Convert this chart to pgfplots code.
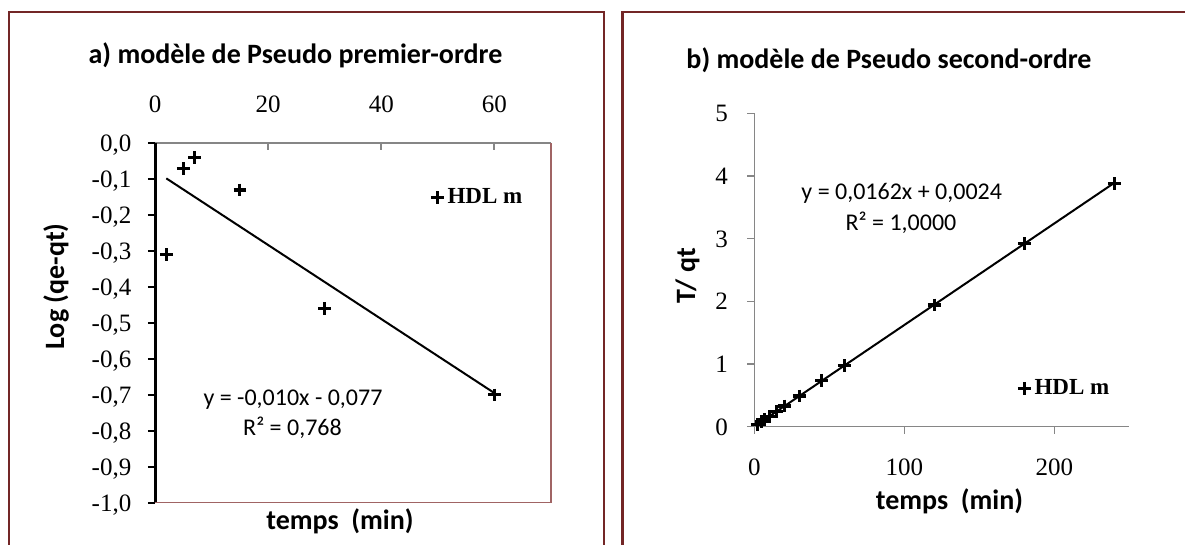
\documentclass[border=0pt]{standalone}
\usepackage{pgfplots}
\pgfplotsset{compat=1.18}
\usepackage{fontspec}
\setmainfont{Liberation Serif}
\newfontfamily\calibri{Carlito}

\definecolor{framered}{RGB}{115,38,38}
\definecolor{axgray}{RGB}{134,134,134}
\definecolor{boxbrown}{RGB}{160,100,100}

\pgfplotsset{
  kinetics/.style={
    scale only axis, clip=false,
    /pgf/number format/assume math mode=true,
    tick label style={font=\fontsize{12.5}{14}\selectfont},
    major tick length=3.5pt, tick align=outside,
    legend style={draw=none, fill=none, inner sep=0pt,
      font=\fontsize{11.5}{13}\selectfont\bfseries},
  },
  crossmarks/.style={only marks, mark=+, mark size=3.175pt, line width=1.6pt, black,
    legend image code/.code={\draw[##1] plot coordinates {(0pt,0pt)};}},
}

\begin{document}
\begin{tikzpicture}
\useasboundingbox (0,0) rectangle (592.5pt,272.5pt);

% panel frames
\draw[framered, line width=1.35pt] (4.5pt,-5pt) -- (4.5pt,266.5pt) -- (302pt,266.5pt) -- (302pt,-5pt);
\draw[framered, line width=1.35pt] (311.35pt,-5pt) -- (311.35pt,266.5pt) -- (600pt,266.5pt);

% ---------- a) pseudo first order ----------
\begin{axis}[kinetics,
  at={(77.5pt,21.15pt)}, anchor=south west,
  width=198pt, height=179.7pt,
  xmin=0, xmax=70, ymin=-1, ymax=0,
  axis x line*=top, axis y line*=left,
  x axis line style={axgray, line width=1pt},
  y axis line style={black, line width=1.5pt},
  xtick={0,20,40,60},
  ytick={-1,-0.9,-0.8,-0.7,-0.6,-0.5,-0.4,-0.3,-0.2,-0.1,0},
  xtick style={axgray, line width=1pt, yshift=-3.5pt},
  ytick style={black, line width=1pt},
  xticklabel style={anchor=south, inner sep=0pt, yshift=11.5pt},
  yticklabel={\pgfmathprintnumber[fixed, fixed zerofill, precision=1, use comma]{\tick}\hspace*{8.15pt}},
  yticklabel style={anchor=base east, inner sep=0pt, yshift=-4.2pt},
  legend style={at={(0.6955,0.849)}, anchor=west},
]
\draw[boxbrown, line width=0.75pt] (rel axis cs:0,0) -- (rel axis cs:1,0) -- (rel axis cs:1,1);
\addplot[crossmarks] coordinates {
  (2,-0.31) (5,-0.07) (7,-0.04) (15,-0.13) (30,-0.46) (60,-0.70)
};
\addlegendentry{HDL m}
% linear trend line
\addplot[black, line width=1pt, forget plot] coordinates {(2,-0.0976) (60,-0.695)};
\end{axis}

% ---------- b) pseudo second order ----------
\begin{axis}[kinetics,
  at={(377.15pt,59.15pt)}, anchor=south west,
  width=187.5pt, height=156.7pt,
  xmin=0, xmax=250, ymin=0, ymax=5,
  axis x line*=bottom, axis y line*=left,
  axis line style={axgray, line width=0.75pt},
  tick style={axgray, line width=0.75pt},
  xtick={0,100,200}, ytick={0,1,2,3,4,5},
  xticklabel style={anchor=north, inner sep=0pt, yshift=-12.3pt},
  yticklabel={\pgfmathprintnumber{\tick}\hspace*{9.5pt}},
  yticklabel style={anchor=base east, inner sep=0pt, yshift=-4.2pt},
  legend style={at={(0.7017,0.121)}, anchor=west},
]
\addplot[crossmarks] coordinates {
  (2,0.035) (5,0.083) (7,0.115) (10,0.165) (15,0.245) (20,0.33)
  (30,0.49) (45,0.74) (60,0.975) (120,1.94) (180,2.92) (240,3.88)
};
\addlegendentry{HDL m}
% linear trend line
\addplot[black, line width=1pt, forget plot] coordinates {(2,0.0348) (240,3.8904)};
\end{axis}

% titles, axis titles and fit equations
\begin{scope}[every node/.style={font=\calibri}]
\node[anchor=base, font=\calibri\fontsize{14}{16}\selectfont\bfseries] at (147.75pt,240.5pt) {a) modèle de Pseudo premier-ordre};
\node[anchor=base, font=\calibri\fontsize{14}{16}\selectfont\bfseries] at (444.5pt,238.3pt) {b) modèle de Pseudo second-ordre};
\node[anchor=base, font=\calibri\fontsize{14}{16}\selectfont\bfseries] at (170pt,7.5pt) {temps\ \ (min)};
\node[anchor=base, font=\calibri\fontsize{14}{16}\selectfont\bfseries] at (474.75pt,17.5pt) {temps\ \ (min)};
\node[rotate=90, font=\calibri\fontsize{14}{16}\selectfont\bfseries] at (28pt,129.25pt) {Log (qe-qt)};
\node[rotate=90, font=\calibri\fontsize{14}{16}\selectfont\bfseries] at (343.7pt,134.65pt) {T/ qt};
\node[font=\calibri\fontsize{12}{14}\selectfont] at (146.5pt,72.75pt) {y = -0,010x - 0,077};
\node[font=\calibri\fontsize{12}{14}\selectfont] at (146.25pt,58.5pt) {R² = 0,768};
\node[font=\calibri\fontsize{12}{14}\selectfont] at (450.85pt,175.65pt) {y = 0,0162x + 0,0024};
\node[font=\calibri\fontsize{12}{14}\selectfont] at (450.5pt,161.3pt) {R² = 1,0000};
\end{scope}
\end{tikzpicture}
\end{document}
